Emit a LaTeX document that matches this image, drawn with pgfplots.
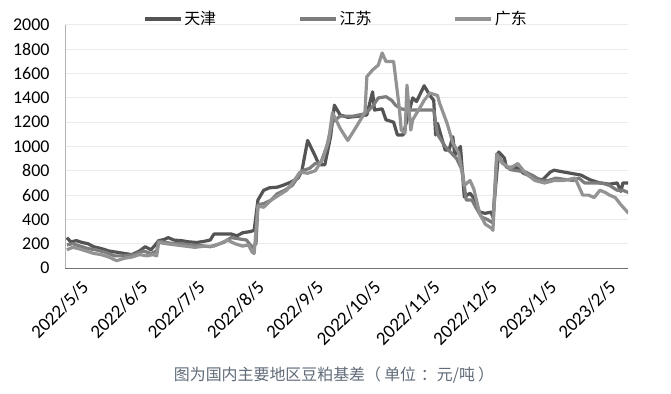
\documentclass[border=0pt]{standalone}
\usepackage{fontspec}
\setmainfont{Carlito}
\newfontfamily\cjk{Noto Sans CJK SC}
\usepackage{pgfplots}
\pgfplotsset{compat=1.18}
\definecolor{tj}{HTML}{545454}
\definecolor{js}{HTML}{7D7D7D}
\definecolor{gd}{HTML}{939393}
\definecolor{gridc}{HTML}{EBEBEB}
\definecolor{capc}{HTML}{5F6B78}
\begin{document}
\begin{tikzpicture}[x=1bp,y=1bp]
\path[use as bounding box] (0,0) rectangle (671,393);
\begin{axis}[
  at={(65bp,125bp)}, anchor=south west,
  scale only axis, width=563bp, height=243bp,
  xmin=-1, xmax=293.7, ymin=0, ymax=2000,
  ytick={0,200,...,2000},
  xtick={0,31,61,92,123,153,184,214,245,276},
  xticklabels={2022/5/5,2022/6/5,2022/7/5,2022/8/5,2022/9/5,2022/10/5,2022/11/5,2022/12/5,2023/1/5,2023/2/5},
  x tick label style={rotate=45, anchor=north east, font=\fontsize{19}{19}\selectfont, xshift=5bp, yshift=-14bp},
  y tick label style={font=\fontsize{18}{18}\selectfont, xshift=-12bp},
  /pgf/number format/assume math mode=true,
  /pgf/number format/1000 sep={},
  major tick length=0pt,
  ymajorgrids, grid style={draw=gridc, line width=1bp},
  axis x line*=bottom, axis y line*=left,
  separate axis lines,
  x axis line style={draw=black!55, line width=1bp, -},
  y axis line style={draw=black!30, line width=1bp, -},
  legend columns=3,
  legend style={at={(0.481,1.025)}, anchor=center, draw=none, fill=none,
    font=\cjk\fontsize{16}{16}\selectfont,
    /tikz/every even column/.append style={column sep=80bp}},
  legend image code/.code={\draw[#1, line width=3.4bp] (0bp,0bp) -- (36bp,0bp);},
  every axis plot/.append style={line width=3.2bp, line join=round},
]
\addplot[tj] table {
0 250
2 215
5 225
8 210
11 200
14 175
18 160
22 140
26 130
30 120
34 110
38 140
41 175
44 150
46 185
48 225
51 235
53 250
56 230
60 225
64 215
68 210
72 220
75 230
77 280
82 280
86 280
89 265
92 290
96 300
98 310
100 560
103 640
106 660
110 665
113 680
117 705
121 740
123 800
126 1050
130 920
132 850
135 850
138 1080
140 1340
143 1260
147 1240
150 1245
153 1250
157 1260
160 1450
161 1300
165 1310
167 1220
171 1200
173 1095
176 1095
178 1220
181 1400
183 1370
187 1500
190 1420
192 1380
193 1095
194 1190
198 970
200 970
202 1080
203 930
206 1000
208 585
211 615
213 575
216 460
219 450
222 460
223 420
226 955
229 905
230 830
235 830
239 780
245 740
249 725
253 790
255 805
260 790
269 765
274 725
279 700
284 690
288 700
290 630
291 700
294 700
};
\addlegendentry{天津}
\addplot[js] table {
0 190
3 200
7 180
11 160
15 150
20 130
25 100
30 100
35 110
40 140
44 120
47 140
48 220
52 210
56 200
60 200
65 190
70 185
75 175
78 190
82 210
86 250
90 240
94 230
97 170
99 200
100 520
103 530
107 560
110 610
114 640
118 680
121 750
123 800
127 820
130 860
133 870
136 1000
139 1200
143 1250
150 1250
156 1270
160 1330
163 1400
167 1410
170 1380
172 1340
175 1310
178 1300
183 1300
187 1300
192 1300
194 1100
198 1000
201 950
204 900
207 800
209 560
212 560
214 500
217 420
220 400
223 370
225 940
228 870
232 810
236 800
240 790
244 760
248 720
252 720
256 740
260 730
265 720
268 740
271 700
276 700
280 700
284 680
288 640
291 640
294 620
};
\addlegendentry{江苏}
\addplot[gd] table {
0 150
3 170
6 160
10 140
14 120
18 110
22 90
26 60
30 80
34 90
38 110
42 100
45 110
47 100
48 210
52 200
57 190
62 180
67 170
72 180
77 180
80 200
84 230
88 200
92 180
95 190
97 130
98 120
100 510
103 500
107 560
111 600
115 640
119 720
122 790
126 780
130 800
134 900
137 1050
139 1280
143 1150
147 1050
151 1150
156 1280
157 1575
160 1630
163 1670
165 1770
167 1700
171 1700
174 1315
175 1135
177 1110
178 1505
180 1135
181 1220
185 1325
187 1380
190 1440
194 1420
195 1360
199 1190
202 1030
205 950
208 680
211 720
213 650
216 450
219 360
222 330
223 310
225 930
228 860
232 820
236 860
240 780
245 720
250 700
255 720
260 720
266 740
270 600
273 600
276 580
279 640
282 620
284 600
287 580
290 520
294 450
};
\addlegendentry{广东}
\end{axis}
\node[font=\cjk\fontsize{16}{16}\selectfont, text=capc] at (334bp,18bp) {图为国内主要地区豆粕基差（\hspace{0.2em}单位\hspace{0.3em}：元/吨\hspace{0.2em}）};
\end{tikzpicture}
\end{document}
